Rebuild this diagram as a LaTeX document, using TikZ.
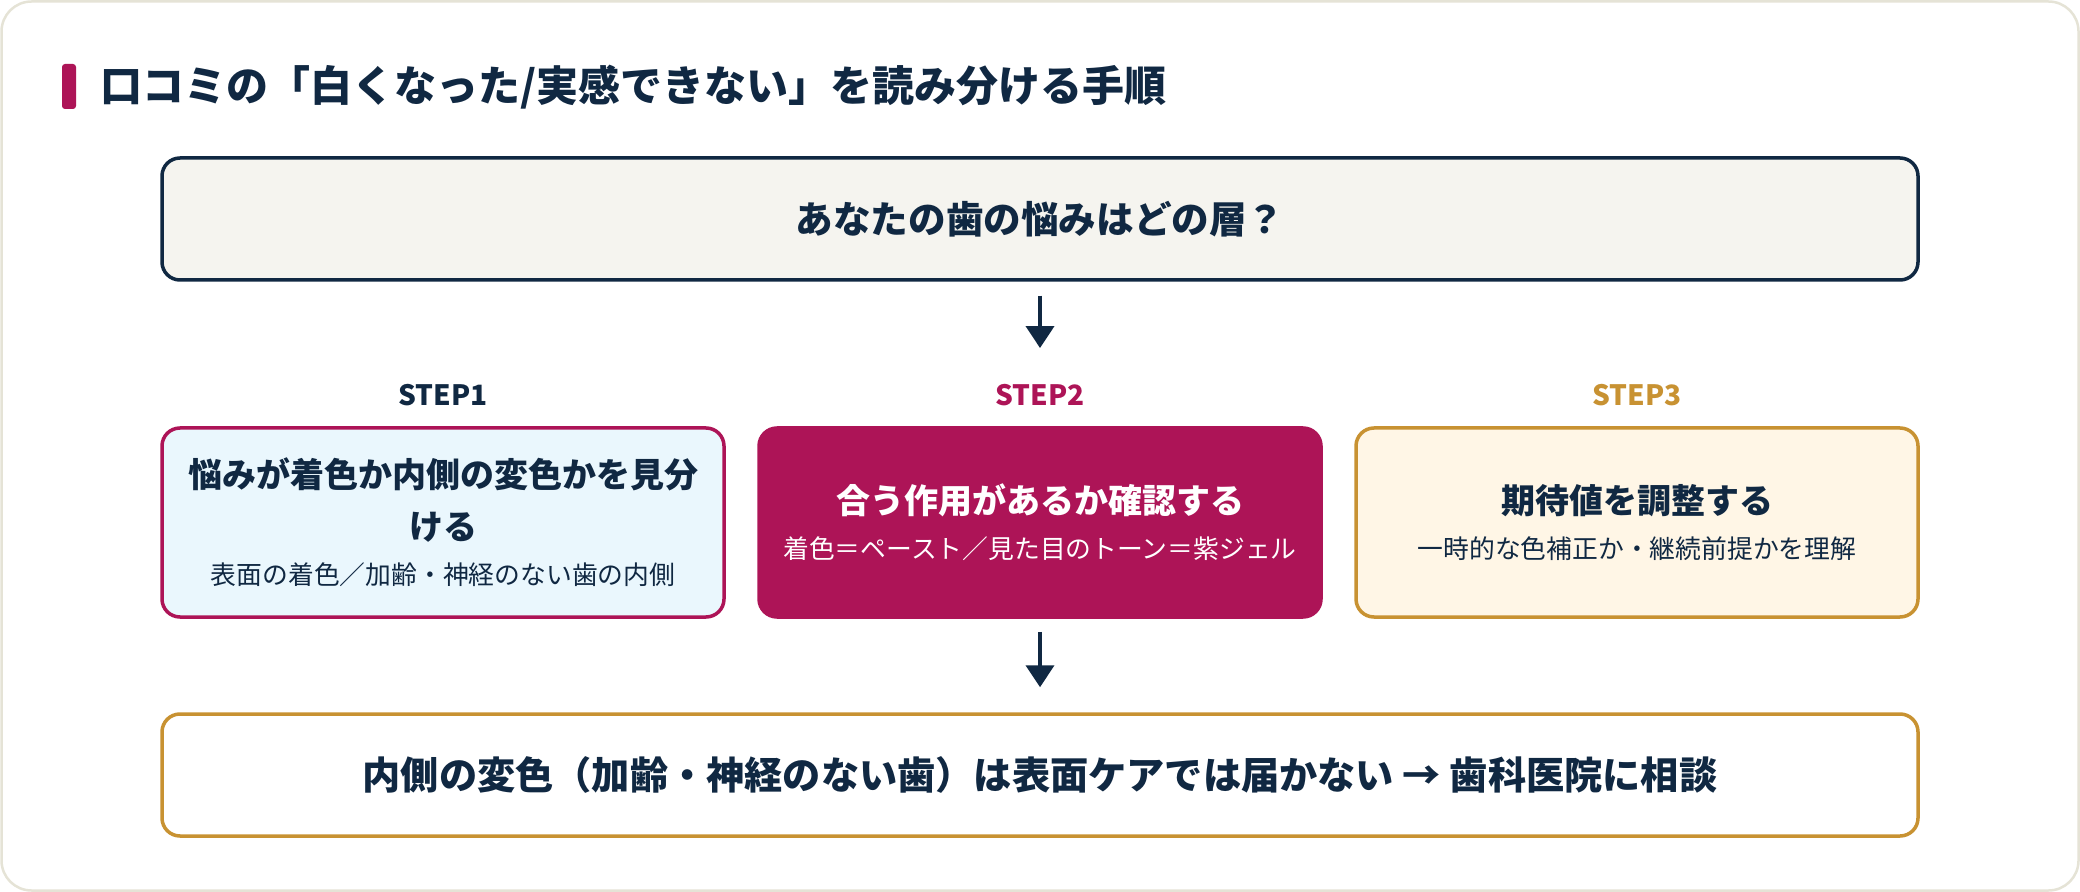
\documentclass[tikz,border=0pt]{standalone}
\usepackage{fontspec}
\setmainfont{Noto Sans CJK JP}
\usetikzlibrary{arrows.meta, positioning}
\definecolor{inkblue}{RGB}{16,40,66}
\definecolor{berry}{RGB}{173,20,87}
\definecolor{ochre}{RGB}{200,146,50}
\definecolor{iceblue}{RGB}{234,247,253}
\definecolor{cream}{RGB}{255,246,230}
\definecolor{paper}{RGB}{245,244,239}
\definecolor{framegray}{RGB}{229,227,214}
\newcommand\boxnote{\fontsize{12.9}{16}\selectfont\mdseries}

\begin{document}
\begin{tikzpicture}[x=1pt, y=-1pt,
    wide/.style={line width=1.75pt, rounded corners=9pt, minimum width=878pt,
                 minimum height=61pt, text=inkblue,
                 font=\fontsize{18.8}{22}\selectfont\bfseries},
    stepbox/.style={line width=1.75pt, rounded corners=9pt, minimum width=281pt,
                    minimum height=94.5pt, align=center, text=inkblue,
                    font=\fontsize{17}{26}\selectfont\bfseries},
    lbl/.style={font=\fontsize{14}{16}\selectfont\bfseries, inner sep=0pt},
    a/.style={-{Triangle[width=14pt,length=11pt]}, line width=2pt, draw=inkblue}
  ]
  \useasboundingbox (0,0) rectangle (1040,446);
  \draw[framegray, line width=1.25pt, fill=white, rounded corners=15pt]
    (0.75,0.75) rectangle (1039.25,445.25);

  % title
  \fill[berry, rounded corners=1.5pt] (31,32) rectangle (38,54.5);
  \node[anchor=west, inner sep=0pt, text=inkblue,
        font=\fontsize{21}{24}\selectfont\bfseries] (title) at (50,43.5)
    {口コミの「白くなった/実感できない」を読み分ける手順};

  \node[wide, draw=inkblue, fill=paper] (top) at (520,109.5) {あなたの歯の悩みはどの層？};

  % three steps
  \node[stepbox, fill=berry, draw=berry, text=white] (s2) at (520,261.25)
    {合う作用があるか確認する\\[-3.5pt]{\boxnote 着色＝ペースト／見た目のトーン＝紫ジェル}};
  \node[stepbox, fill=iceblue, draw=berry] (s1) [left=15.75pt of s2]
    {悩みが着色か内側の変色かを見分\\ける\\[-3.5pt]{\boxnote 表面の着色／加齢・神経のない歯の内側}};
  \node[stepbox, fill=cream, draw=ochre] (s3) [right=15.75pt of s2]
    {期待値を調整する\\[-3.5pt]{\boxnote 一時的な色補正か・継続前提かを理解}};

  \node[lbl, text=inkblue] (l1) [above=9.9pt of s1] {STEP1};
  \node[lbl, text=berry] (l2) [above=9.9pt of s2] {STEP2};
  \node[lbl, text=ochre] (l3) [above=9.9pt of s3] {STEP3};

  \node[wide, draw=ochre, fill=white, font=\fontsize{19.1}{22}\selectfont\bfseries]
    (bottom) [below=46.75pt of s2]
    {内側の変色（加齢・神経のない歯）は表面ケアでは届かない → 歯科医院に相談};

  \draw[a, shorten <=7pt, shorten >=18pt] (top) -- (l2);
  \draw[a, shorten <=6.5pt, shorten >=12.5pt] (s2) -- (bottom);
\end{tikzpicture}
\end{document}
